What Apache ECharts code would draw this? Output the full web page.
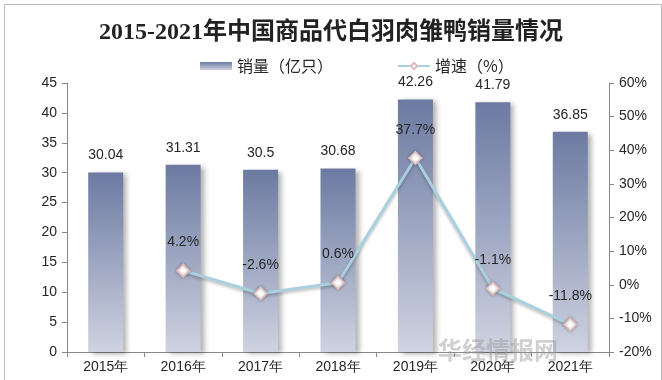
<!DOCTYPE html>
<html><head><meta charset="utf-8">
<script src="https://cdn.jsdelivr.net/npm/echarts@6/dist/echarts.min.js"></script>
<style>html,body{margin:0;padding:0;background:#fff}#c{width:662px;height:380px}</style>
</head><body><div id="c"></div>
<script>
var categories = ['2015年','2016年','2017年','2018年','2019年','2020年','2021年'];
var sales = [30.04, 31.31, 30.5, 30.68, 42.26, 41.79, 36.85];
var growth = [null, 4.2, -2.6, 0.6, 37.7, -1.1, -11.8];
var leftTicks = {min: 0, max: 45, interval: 5};
var rightTicks = {min: -20, max: 60, interval: 10};

var chart = echarts.init(document.getElementById('c'), null, {renderer: 'canvas'});
var txt = '#262626';
var font = 'Liberation Sans, Arial, sans-serif';
chart.setOption({
  animation: false,
  backgroundColor: '#fff',
  title: {
    text: '2015-2021年中国商品代白羽肉雏鸭销量情况',
    left: 'center', top: 16,
    textStyle: {fontFamily: 'Liberation Serif, Noto Sans CJK SC', fontWeight: 'bold', fontSize: 24, color: '#222'}
  },
  legend: {
    top: 53, left: 195, itemGap: 64, itemWidth: 32, itemHeight: 8,
    textStyle: {fontSize: 16, color: txt, fontFamily: 'Noto Sans CJK SC'},
    data: [
      {name: '销量（亿只）', icon: 'rect'},
      {name: '增速（%）'}
    ]
  },
  grid: {left: 67, right: 53, top: 83, bottom: 28},
  xAxis: {
    type: 'category', data: categories,
    axisLine: {lineStyle: {color: '#888'}},
    axisTick: {show: true, alignWithLabel: false, lineStyle: {color: '#888'}},
    axisLabel: {color: txt, fontSize: 14, fontFamily: font, margin: 8}
  },
  yAxis: [
    {type: 'value', min: leftTicks.min, max: leftTicks.max, interval: leftTicks.interval,
     splitLine: {show: false},
     axisLine: {show: true, lineStyle: {color: '#888'}},
     axisTick: {show: true, lineStyle: {color: '#888'}},
     axisLabel: {color: txt, fontSize: 14, fontFamily: font, margin: 10}},
    {type: 'value', min: rightTicks.min, max: rightTicks.max, interval: rightTicks.interval,
     splitLine: {show: false},
     axisLine: {show: true, lineStyle: {color: '#888'}},
     axisTick: {show: true, lineStyle: {color: '#888'}},
     axisLabel: {color: txt, fontSize: 14, fontFamily: font, margin: 10, formatter: '{value}%'}}
  ],
  series: [
    {
      name: '销量（亿只）', type: 'bar', data: sales, barWidth: 35,
      itemStyle: {
        color: new echarts.graphic.LinearGradient(0, 0, 0, 1, [
          {offset: 0, color: '#6c7aa2'}, {offset: 1, color: '#cfd3e1'}
        ]),
        shadowColor: 'rgba(0,0,0,0.3)', shadowBlur: 5, shadowOffsetX: 4, shadowOffsetY: 2
      },
      label: {show: true, position: 'top', distance: 10, color: txt, fontSize: 14, fontFamily: font}
    },
    {
      name: '增速（%）', type: 'line', yAxisIndex: 1, data: growth,
      symbol: 'diamond', symbolSize: 13,
      lineStyle: {color: '#a9d0df', width: 3, shadowColor: 'rgba(0,0,0,0.25)', shadowBlur: 3, shadowOffsetY: 2},
      itemStyle: {color: '#fff', borderColor: '#e0b8b8', borderWidth: 1.5, shadowColor: 'rgba(0,0,0,0.3)', shadowBlur: 3},
      label: {show: true, position: 'top', distance: 14, color: txt, fontSize: 14, fontFamily: font,
              formatter: function(p){ return p.value + '%'; }}
    }
  ],
  graphic: [
    {type: 'rect', left: 2, top: 2, shape: {width: 657, height: 376}, style: {fill: 'none', stroke: '#bbb', lineWidth: 1}, silent: true},
    {type: 'text', left: 438, top: 338, z: 100, style: {text: '华经情报网', fill: 'rgba(150,150,150,0.45)', font: 'bold 24px Noto Sans CJK SC'}}
  ]
});
</script></body></html>
